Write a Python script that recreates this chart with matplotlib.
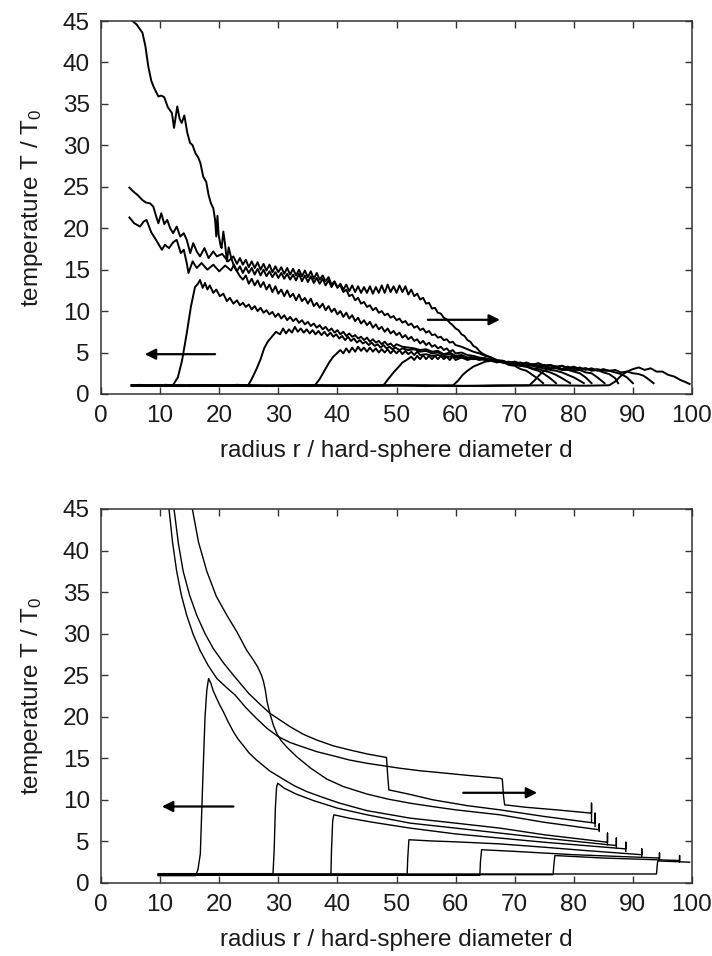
import matplotlib
matplotlib.use("Agg")
import matplotlib.pyplot as plt

plt.rcParams['font.family'] = ['Liberation Sans', 'DejaVu Sans']
plt.rcParams['mathtext.fontset'] = 'custom'
plt.rcParams['mathtext.rm'] = 'Liberation Sans'
plt.rcParams['mathtext.it'] = 'Liberation Sans'

# ---------------- data: top panel (simulation, noisy profiles) ----------------
TOP_A = [(5.0,45.2),(6.0,44.6),(7.0,43.6),(7.5,42.0),(8.0,39.5),(8.5,37.8),(9.0,36.9),(9.7,35.9),(10.2,36.0),(10.7,35.8),
         (11.3,34.6),(12.0,33.9),(12.35,32.1),(12.9,34.7),(13.3,33.2),(13.65,32.7),(14.1,33.6),(14.6,31.5),(15.06,30.3),(15.5,30.0),
         (16.0,29.0),(16.4,28.6),(16.8,27.9),(17.3,26.2),(17.8,25.6),(18.2,24.0),(18.6,23.0),(19.0,22.4),(19.3,21.0),(19.5,19.0),
         (19.7,21.5),(19.9,19.2),(20.2,18.0),(20.4,17.6),(20.7,19.6),(21.0,18.0),(21.3,16.0),(21.6,17.7),(22.0,16.5),(22.5,15.4),
         (23.0,14.8),(23.5,14.2),(24.0,13.8),(24.5,14.3),(25,13.3),(25.5,13.9),(26,13.1),(26.5,13.7),(27,12.9),(27.5,13.5),
         (28,12.6),(28.5,13.2),(29,12.3),(29.5,13.0),(30,12.1),(30.5,12.6),(31,11.8),(31.5,12.5),(32,11.7),(32.5,12.1),
         (33,11.3),(33.5,12.0),(34,11.2),(34.5,11.6),(35,10.9),(35.5,11.5),(36,10.6),(36.5,11.0),(37,10.4),(37.5,10.9),
         (38,10.1),(38.5,10.6),(39,9.9),(39.5,10.3),(40,9.6),(40.5,10.0),(41,9.3),(41.5,9.8),(42,9.1),(42.5,9.5),(43,8.8),
         (43.5,9.2),(44,8.5),(44.5,8.9),(45,8.3),(45.5,8.7),(46,8.0),(46.5,8.4),(47,7.8),(47.5,8.1),(48,7.5),(48.5,7.9),
         (49,7.3),(49.5,7.6),(50,7.1),(50.5,7.4),(51,6.8),(51.5,7.1),(52,6.6),(52.5,6.9),(53,6.4),(53.5,6.6),(54,6.1),
         (54.5,6.4),(55,5.9),(55.5,6.2),(56,5.7),(56.5,5.9),(57,5.5),(57.5,5.7),(58,5.3),(58.5,5.5),(59,5.1),(59.5,5.3),
         (60,4.9),(61,5.0),(62,4.7),(63,4.6),(64,4.4),(65,4.3),(66,4.1),(67,3.9),(68,3.8),(69,3.6),(70,3.5),
         (71,3.4),(72,3.3),(73,3.1),(74,3.0),(75,2.8),(76,2.6),(77,2.3),(78,1.9),(79.4,1.3)]
TOP_B = [(4.8,24.9),(5.5,24.4),(6.2,24.0),(7.0,23.4),(7.6,23.1),(8.3,23.0),(8.85,22.6),(9.3,21.5),(9.7,20.6),(10.2,21.8),
         (10.7,20.5),(11.2,21.0),(11.7,20.0),(12.2,19.4),(12.8,20.2),(13.4,19.0),(14.0,19.4),(14.5,18.6),(15.1,17.0),(15.6,18.2),
         (16.2,17.2),(16.75,16.6),(17.5,17.6),(18.2,16.4),(19.0,17.2),(19.6,16.6),(20.5,16.9),(21.5,16.0),(22.4,16.6),(23,15.7),
         (23.5,16.4),(24,15.6),(24.5,16.2),(25,15.3),(25.5,16.0),(26,15.2),(26.5,15.9),(27,15.0),(27.5,15.7),(28,14.9),
         (28.5,15.6),(29,14.7),(29.5,15.4),(30,14.7),(30.5,15.3),(31,14.5),(31.5,15.2),(32,14.4),(32.5,15.1),(33,14.3),
         (33.5,15.0),(34,14.2),(34.5,14.9),(35,14.1),(35.5,14.8),(36,13.9),(36.5,14.6),(37,13.8),(37.5,14.3),(38,13.6),
         (38.5,14.1),(39,13.2),(39.5,13.6),(40,12.9),(40.5,13.1),(41,12.3),(41.5,12.6),(42,11.8),(42.5,12.0),(43,11.3),
         (43.5,11.6),(44,10.9),(44.5,11.1),(45,10.5),(45.5,10.7),(46,10.1),(46.5,10.4),(47,9.8),(47.5,10.0),(48,9.5),
         (48.5,9.7),(49,9.2),(49.5,9.4),(50,8.9),(50.5,9.1),(51,8.6),(51.5,8.8),(52,8.3),(52.5,8.5),(53,8.0),(53.5,8.2),
         (54,7.7),(54.5,7.9),(55,7.4),(55.5,7.6),(56,7.1),(56.5,7.2),(57,6.8),(57.5,6.9),(58,6.5),(58.5,6.6),(59,6.2),
         (59.5,6.3),(60,5.9),(61,5.7),(62,5.4),(63,5.1),(64,4.9),(65,4.6),(66,4.4),(67,4.1),(68,4.0),(69,3.7),(70,3.6),
         (71,3.4),(72,3.3),(73,3.0),(74,2.8),(75,2.4),(76,1.9),(77,1.3)]
TOP_C = [(4.8,21.3),(5.6,20.6),(6.6,20.2),(7.2,20.8),(7.7,21.0),(8.5,19.5),(9.3,18.6),(10.3,17.4),(10.8,18.0),(11.5,17.6),
         (12.2,18.3),(12.8,18.6),(13.5,17.0),(14.0,17.4),(14.5,15.8),(14.8,14.6),(15.5,16.0),(16.2,15.2),(17,15.8),(18,15.0),
         (19,15.6),(20,14.8),(21,15.5),(22,14.9),(22.5,15.6),(23,14.8),(23.5,15.4),(24,14.6),(24.5,15.3),(25,14.6),(25.5,15.2),
         (26,14.4),(26.5,15.1),(27,14.3),(27.5,15.0),(28,14.2),(28.5,14.8),(29,14.1),(29.5,14.7),(30,14.0),(30.5,14.6),
         (31,13.9),(31.5,14.5),(32,13.8),(32.5,14.4),(33,13.7),(33.5,14.5),(34,13.6),(34.5,14.3),(35,13.5),(35.5,14.2),
         (36,13.4),(36.5,14.0),(37,13.3),(37.5,13.9),(38,13.1),(38.5,13.7),(39,12.9),(39.5,13.5),(40,12.8),(40.5,13.3),
         (41,12.6),(41.5,13.2),(42,12.4),(42.5,13.1),(43,12.3),(43.5,13.0),(44,12.2),(44.5,12.9),(45,12.2),(45.5,13.0),
         (46,12.1),(46.5,12.9),(47,12.2),(47.5,13.1),(48,12.2),(48.5,13.2),(49,12.3),(49.5,13.0),(50,12.2),(50.5,13.1),
         (51,12.3),(51.5,13.0),(52,12.0),(52.5,12.6),(53,11.8),(53.5,12.1),(54,11.4),(54.5,11.6),(55,10.9),(55.5,11.0),
         (56,10.3),(56.5,10.4),(57,9.8),(57.5,9.7),(58,9.2),(58.5,9.0),(59,8.6),(59.5,8.3),(60,7.9),(60.5,7.7),(61,7.2),
         (61.5,7.0),(62,6.5),(62.5,6.3),(63,5.8),(63.5,5.6),(64,5.2),(64.5,4.9),(65,4.7),(66,4.4),(67,4.0),
         (68,3.9),(69,3.5),(70,3.4),(71,3.0),(72,2.8),(73,2.3),(74,1.8),(74.8,1.3)]
TOP_F1 = [(5.2,1.0),(6.5,1.1),(8,0.95),(9.5,1.05),(11,1.0),(12.2,1.1),(13.0,2.0),(13.7,4.0),(14.5,7.3),(15.2,10.5),(15.9,12.9),
          (16.4,13.3),(16.75,13.75),(17.2,12.8),(17.6,13.4),(18.0,12.6),(18.4,13.1),(19.0,12.2),(19.5,12.6),(20.1,11.8),(20.7,12.1),
          (21.3,11.2),(21.8,11.6),(22.4,10.9),(23,11.3),(23.5,10.7),(24,11.0),(24.5,10.5),(25,10.8),(25.5,10.2),(26,10.6),
          (26.5,10.0),(27,10.4),(27.5,9.8),(28,10.1),(28.5,9.6),(29,9.9),(29.5,9.3),(30,9.7),(30.5,9.1),(31,9.5),(31.5,8.9),
          (32,9.3),(32.5,8.8),(33,9.1),(33.5,8.6),(34,8.9),(34.5,8.4),(35,8.7),(35.5,8.2),(36,8.5),(36.5,8.0),(37,8.3),
          (37.5,7.8),(38,8.1),(38.5,7.6),(39,7.9),(39.5,7.4),(40,7.7),(40.5,7.2),(41,7.5),(41.5,7.0),(42,7.3),(42.5,6.9),
          (43,7.1),(43.5,6.7),(44,6.9),(44.5,6.5),(45,6.8),(45.5,6.3),(46,6.6),(46.5,6.2),(47,6.4),(47.5,6.0),(48,6.3),
          (48.5,5.9),(49,6.1),(49.5,5.7),(50,6.0),(51,5.7),(52,5.6),(53,5.5),(54,5.3),(55,5.4),(56,5.1),(57,5.2),
          (58,4.8),(59,5.0),(60,4.6),(61,4.7),(62,4.4),(63,4.5),(64,4.2),(65,4.3),(66,4.1),(67,4.0),(68,3.8),(69,3.8),(70,3.6),
          (71,3.6),(72,3.4),(73,3.4),(74,3.2),(75,3.1),(76,2.9),(77,2.8),(78,2.6),(79,2.3),(80,2.0),(81,1.6),(81.7,1.3)]
TOP_F2 = [(5.2,1.05),(8,1.0),(11,1.1),(14,0.95),(17,1.05),(20,1.0),(23,1.1),(24.9,1.05),(25.5,1.8),(26.3,3.0),(27.0,4.2),
          (27.6,5.5),(28.2,6.3),(28.9,6.9),(29.6,7.5),(30.3,7.2),(30.8,7.9),(31.3,7.3),(31.8,7.8),(32.3,7.4),(32.8,8.1),
          (33.3,7.5),(33.8,7.9),(34.3,7.4),(34.8,7.8),(35.3,7.3),(35.8,7.7),(36.3,7.2),(36.8,7.6),(37.3,7.1),(37.8,7.5),
          (38.3,7.0),(38.8,7.4),(39.3,6.9),(39.8,7.2),(40.3,6.7),(40.8,7.0),(41.3,6.5),(41.8,6.9),(42.3,6.4),(42.8,6.7),
          (43.3,6.2),(43.8,6.5),(44.3,6.1),(44.8,6.3),(45.3,5.9),(45.8,6.2),(46.3,5.8),(46.8,6.0),(47.3,5.6),(47.8,5.9),
          (48.3,5.5),(48.8,5.7),(49.3,5.4),(49.8,5.6),(50.5,5.3),(51,5.5),(52,5.3),(53,5.4),(54,5.1),(55,5.2),(56,4.9),
          (57,5.0),(58,4.7),(59,4.8),(60,4.5),(61,4.6),(62,4.3),(63,4.4),
          (64,4.2),(65,4.2),(66,4.1),(67,4.0),(68,3.9),(69,3.8),(70,3.7),(71,3.7),(72,3.5),(73,3.5),(74,3.3),(75,3.3),(76,3.1),
          (77,3.1),(78,2.9),(79,2.9),(80,2.7),(81,2.5),(82,2.0),(83,1.3)]
TOP_F3 = [(5.2,1.0),(9,1.05),(13,0.95),(17,1.05),(21,1.0),(25,1.05),(29,0.95),(33,1.05),(36.2,1.05),(37.0,1.8),(37.8,2.8),
          (38.6,3.8),(39.3,4.5),(39.9,4.9),(40.5,5.3),(41,4.9),(41.5,5.5),(42,5.0),(42.5,5.6),(43,5.1),(43.5,5.7),(44,5.2),
          (44.5,5.6),(45,5.1),(45.5,5.6),(46,5.1),(46.5,5.5),(47,5.0),(47.5,5.4),(48,5.0),(48.5,5.4),(49,4.9),(49.5,5.3),
          (50,4.9),(50.5,5.3),(51,4.8),(51.5,5.2),(52,4.8),(52.5,5.1),(53,4.7),(53.5,5.1),(54,4.7),(55,4.8),(56,4.6),
          (57,4.7),(58,4.5),(59,4.5),(60,4.4),(61,4.4),
          (62,4.3),(63,4.2),(64,4.3),(65,4.1),(66,4.1),(67,4.0),(68,3.8),(69,3.9),(70,3.7),(71,3.8),(72,3.5),(73,3.6),(74,3.4),
          (75,3.5),(76,3.2),(77,3.3),(78,3.0),(79,3.1),(80,2.8),(81,2.9),(82,2.6),(83,2.5),(84,2.0),(85.2,1.3)]
TOP_F4 = [(5.2,1.05),(10,1.0),(15,1.05),(20,0.95),(25,1.05),(30,1.0),(35,1.05),(40,0.95),(44,1.05),(47.8,1.05),(48.6,1.8),
          (49.5,2.6),(50.4,3.3),(51.0,3.8),(51.7,4.1),(52.5,4.5),(53,4.1),(53.5,4.6),(54,4.2),(54.5,4.7),(55,4.2),(55.5,4.6),
          (56,4.2),(56.5,4.6),(57,4.2),(57.5,4.6),(58,4.2),(58.5,4.5),(59,4.1),(59.5,4.5),(60,4.1),(61,4.4),(62,4.1),
          (63,4.3),(64,4.1),(65,4.2),(66,4.2),(67,3.9),(68,4.0),(69,3.7),(70,3.9),(71,3.6),(72,3.8),
          (73,3.5),(74,3.7),(75,3.4),(76,3.5),(77,3.2),(78,3.4),(79,3.1),(80,3.2),(81,2.9),(82,3.1),(83,2.8),(84,2.9),(85,2.6),
          (86,2.4),(87,1.9),(87.5,1.3)]
TOP_F5 = [(5.2,1.0),(10,1.05),(15,0.95),(20,1.05),(25,1.0),(30,1.05),(35,0.95),(40,1.05),(45,1.0),(50,1.05),(55,0.95),
          (59.6,1.05),(60.4,1.6),(61.2,2.3),(62.0,2.8),(63.0,3.3),(64,3.6),(65,3.9),(66,4.0),(67,3.8),(68,4.0),(69,3.7),(70,3.9),
          (71,3.6),(72,3.7),(73,3.5),(74,3.7),(75,3.4),(76,3.5),(77,3.3),(78,3.4),(79,3.1),(80,3.3),(81,3.0),(82,3.1),(83,2.9),
          (84,3.0),(85,2.8),(86,2.8),(87,2.6),(88,2.4),(89,2.0),(90,1.3)]
TOP_F6 = [(5.2,1.05),(12,1.0),(20,1.05),(28,0.95),(36,1.05),(44,1.0),(52,1.05),(60,0.95),(67,1.05),(72.5,1.05),(73.3,1.6),
          (74.2,2.3),(75,2.8),(76,3.1),(77,3.3),(78,3.0),(79,3.3),(80,3.0),(81,3.2),(82,2.9),(83,3.1),(84,2.8),(85,3.0),(86,2.8),
          (87,2.9),(88,2.6),(89,2.7),(90,2.5),(91,2.4),(91.8,2.2),(92.6,1.8),(93.5,1.3)]
TOP_F0 = [(5.2,1.0),(15,1.05),(25,0.95),(35,1.05),(45,1.0),(55,1.05),(65,0.95),(75,1.05),(82,1.0),(86,1.05),(87,1.5),
          (88,2.2),(89,2.7),(90,3.0),(91,3.2),(92,2.9),(93,3.1),(94,2.7),(95,2.7),(96,2.3),(97,2.1),(98,1.7),(99,1.4),(99.6,1.2)]
TOP_CURVES = [TOP_A, TOP_B, TOP_C, TOP_F1, TOP_F2, TOP_F3, TOP_F4, TOP_F5, TOP_F6, TOP_F0]

# ---------------- data: bottom panel (smooth profiles) ----------------
BOT_C1 = [(10.5,53),(11.0,48.8),(11.5,45),(12.1,41.0),(12.8,37.5),(13.6,34.6),(14.5,32.2),(15.6,29.9),(16.75,28.0),
          (18.1,26.2),(19.6,24.6),(21.1,23.6),(22.7,22.6),(24.5,21.1),(26.3,19.8),(28.1,18.6),(30,17.6),(32,16.9),(34,16.4),
          (36.5,15.8),(39.3,15.3),(42,14.8),(45,14.4),(47.8,14.1),(50.6,13.8),(54,13.5),(57,13.3),(62,12.95),(67.5,12.6),
          (67.9,12.5),(68.1,10.5),(68.3,9.4),(72,9.1),(77,8.8),(83,8.4),(83,9.6),(83,7.3)]
BOT_C2 = [(11,56),(11.6,50.5),(12.35,45),(13.1,40.8),(13.9,37.5),(15.0,34.6),(16.2,32.2),(17.6,30.0),(19.0,28.2),(20.7,26.5),
          (22.4,25.0),(25,22.8),(26.9,21.5),(28.6,20.4),(30.3,19.6),(32,18.8),(34.2,17.9),(36.5,17.2),(39.3,16.5),(42.1,16.0),
          (45.2,15.5),(48.3,15.1),(48.5,13.0),(48.7,11.2),(52,10.7),(56.2,10.0),(62,9.3),(67.5,8.8),(75,8.0),
          (83.6,7.2),(83.6,8.4),(83.6,6.8)]
BOT_C3 = [(12.5,70),(13.5,58),(14.5,50),(15.45,45),(16.5,41),(17.9,37.5),(19.5,34.5),(21.3,32.2),(23.0,30.2),(24.65,28.0),
          (25.8,26.8),(26.5,26.0),(26.9,25.4),(27.2,24.9),(27.5,24.2),(27.8,23.2),(28.1,21.8),(28.4,20.9),(28.7,20.1),
          (29.2,18.9),(29.8,17.9),(30.5,17.1),(31.5,16.3),(33.1,15.2),(35.5,13.8),(38.2,12.5),(41,11.6),(45,10.7),(48.5,10.1),
          (52.3,9.6),(56,9.2),(60,8.8),(67.5,8.2),(75,7.3),(84.3,6.4),(84.3,7.1),(84.3,6.2)]
BOT_I17 = [(9.7,0.88),(16.0,0.88),(16.4,1.6),(16.8,3.5),(17.2,12),(17.6,20),(17.9,23.2),(18.2,24.6),(18.6,24.0),(19.0,23.1),
           (19.5,22.3),(20.1,21.4),(20.7,20.6),(21.5,19.4),(22.4,18.2),(23.2,17.3),(24,16.6),(25.1,15.6),(26.3,14.8),(28.5,13.5),
           (30.8,12.5),(32.7,11.7),(34.8,11.0),(37.5,10.3),(40.4,9.6),(45,8.7),(52.3,7.8),
           (60,7.2),(67.5,6.6),(75,5.8),(85.7,4.9),(85.7,6.0),(85.7,4.6)]
BOT_I29 = [(9.7,1.12),(29.1,1.12),(29.3,4),(29.5,9),(29.7,11.5),(29.9,12.0),(31,11.4),(33,10.7),(36,9.9),(40,9.0),(45,8.2),
           (52.3,7.2),(60,6.6),(67.5,6.0),(75,5.4),(87.2,4.5),(87.2,5.4),(87.2,4.2)]
BOT_I39 = [(9.7,0.95),(38.9,0.95),(39.0,4),(39.2,7.5),(39.4,8.2),(42,7.8),(46,7.3),(52.3,6.6),(60,5.9),(67.5,5.4),(75,4.9),
           (88.8,4.1),(88.8,4.9),(88.8,3.8)]
BOT_I52 = [(9.7,1.05),(51.8,1.05),(51.9,3),(52.1,5.2),(56,5.05),(60,4.95),(67.5,4.7),(75,4.3),(82,3.9),(91.5,3.4),(91.5,4.1),
           (91.5,3.2)]
BOT_I64 = [(9.7,0.92),(64.1,0.92),(64.2,2.5),(64.4,4.0),(70,3.8),(80,3.4),(94.5,3.0),(94.5,3.6),(94.5,2.8)]
BOT_I76 = [(9.7,1.0),(76.5,1.0),(76.6,2.0),(76.8,3.3),(85,3.0),(97.9,2.7),(97.9,3.3),(97.9,2.5)]
BOT_I94 = [(9.7,1.08),(94.0,1.08),(94.1,2.0),(94.2,2.65),(99.6,2.5)]
BOT_CURVES = [BOT_C1, BOT_C2, BOT_C3, BOT_I17, BOT_I29, BOT_I39, BOT_I52, BOT_I64, BOT_I76, BOT_I94]

XTICKS = [0, 10, 20, 30, 40, 50, 60, 70, 80, 90, 100]
YTICKS = [0, 5, 10, 15, 20, 25, 30, 35, 40, 45]
XLABEL = "radius r / hard-sphere diameter d"
YLABEL = r"temperature T / T$_\mathrm{0}$"

# ---------------- figure ----------------
fig = plt.figure(figsize=(7.12, 9.56), dpi=100)
ax_top = fig.add_axes([0.1419, 0.5879, 0.8300, 0.3901])
ax_bot = fig.add_axes([0.1419, 0.0764, 0.8300, 0.3912])

FS = 17.5

def style(ax):
    ax.set_xlim(0, 100)
    ax.set_ylim(0, 45)
    ax.set_xticks(XTICKS)
    ax.set_yticks(YTICKS)
    ax.tick_params(direction='in', length=5, width=1.0, color='#333333',
                   top=True, right=True, labelsize=FS, pad=8, labelcolor='#1a1a1a')
    for s in ax.spines.values():
        s.set_color('#333333')
        s.set_linewidth(1.1)
    ax.set_xlabel(XLABEL, fontsize=FS, color='#1a1a1a', labelpad=9)
    ax.set_ylabel(YLABEL, fontsize=FS, color='#1a1a1a', labelpad=12.5)

for curve in TOP_CURVES:
    r = [p[0] for p in curve]
    t = [p[1] for p in curve]
    ax_top.plot(r, t, color='black', lw=1.4, clip_on=True)

for curve in BOT_CURVES:
    r = [p[0] for p in curve]
    t = [p[1] for p in curve]
    ax_bot.plot(r, t, color='black', lw=1.0, clip_on=True)

arrow = dict(arrowstyle='-|>', color='black', lw=1.6, mutation_scale=16, shrinkA=0, shrinkB=0)
ax_top.annotate('', xy=(7.4, 4.8), xytext=(19.3, 4.8), arrowprops=arrow)
ax_top.annotate('', xy=(67.5, 8.95), xytext=(55.3, 8.95), arrowprops=arrow)
ax_bot.annotate('', xy=(10.3, 9.2), xytext=(22.4, 9.2), arrowprops=arrow)
ax_bot.annotate('', xy=(73.8, 10.85), xytext=(61.3, 10.85), arrowprops=arrow)

style(ax_top)
style(ax_bot)

fig.savefig('out.png', dpi=100)
